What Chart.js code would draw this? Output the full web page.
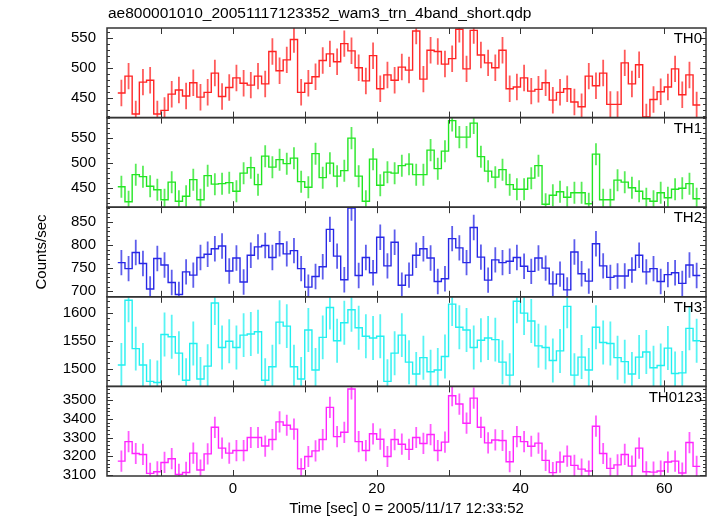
<!DOCTYPE html>
<html>
<head>
<meta charset="utf-8">
<script src="https://cdn.jsdelivr.net/npm/chart.js@4.4.1/dist/chart.umd.min.js"></script>
<style>
  html, body { margin: 0; padding: 0; background: #fff; }
  #wrap { position: relative; width: 717px; height: 516px; }
</style>
</head>
<body>
<div id="wrap"><canvas id="chart" width="717" height="516"></canvas></div>
<script>
// time bins (sec), 1 s wide
var binCenters = [
  -15.5, -14.5, -13.5, -12.5, -11.5, -10.5, -9.5, -8.5, -7.5, -6.5,
  -5.5, -4.5, -3.5, -2.5, -1.5, -0.5, 0.5, 1.5, 2.5, 3.5,
  4.5, 5.5, 6.5, 7.5, 8.5, 9.5, 10.5, 11.5, 12.5, 13.5,
  14.5, 15.5, 16.5, 17.5, 18.5, 19.5, 20.5, 21.5, 22.5, 23.5,
  24.5, 25.5, 26.5, 27.5, 28.5, 29.5, 30.5, 31.5, 32.5, 33.5,
  34.5, 35.5, 36.5, 37.5, 38.5, 39.5, 40.5, 41.5, 42.5, 43.5,
  44.5, 45.5, 46.5, 47.5, 48.5, 49.5, 50.5, 51.5, 52.5, 53.5,
  54.5, 55.5, 56.5, 57.5, 58.5, 59.5, 60.5, 61.5, 62.5, 63.5,
  64.5
];
var binHalfWidth = 0.5;

var th0 = [
  459, 487, 424, 477, 480, 424, 430, 457, 464, 454,
  476, 452, 460, 492, 453, 468, 484, 475, 472, 487,
  474, 528, 496, 514, 548, 460, 475, 486, 513, 524,
  511, 541, 529, 501, 479, 521, 466, 489, 480, 502,
  497, 562, 482, 530, 528, 507, 516, 565, 499, 563,
  522, 509, 501, 530, 466, 469, 484, 462, 465, 476,
  447, 460, 466, 444, 436, 487, 471, 492, 440, 440,
  509, 474, 506, 419, 448, 461, 469, 499, 456, 489,
  439
];
var th1 = [
  452, 422, 476, 472, 453, 446, 426, 461, 423, 433,
  466, 426, 474, 457, 458, 460, 443, 479, 490, 456,
  513, 491, 506, 498, 509, 462, 451, 518, 470, 499,
  473, 484, 549, 473, 423, 507, 455, 481, 479, 494,
  497, 476, 476, 525, 488, 523, 584, 551, 551, 579,
  512, 483, 471, 486, 456, 447, 447, 469, 494, 417,
  435, 442, 431, 440, 440, 418, 517, 426, 426, 465,
  461, 450, 443, 428, 423, 440, 430, 447, 449, 458,
  428
];
var th2 = [
  762, 749, 784, 760, 705, 771, 757, 719, 693, 742,
  735, 773, 780, 792, 798, 744, 772, 720, 778, 796,
  799, 773, 803, 781, 788, 749, 709, 732, 753, 834,
  776, 725, 880, 734, 773, 740, 817, 755, 806, 713,
  735, 778, 792, 772, 721, 727, 814, 794, 762, 838,
  774, 724, 768, 762, 765, 773, 754, 743, 772, 750,
  716, 737, 703, 785, 738, 722, 803, 755, 730, 733,
  733, 746, 778, 742, 749, 721, 736, 740, 717, 757,
  734
];
var th3 = [
  1507, 1622, 1536, 1507, 1478, 1476, 1561, 1557, 1528, 1480,
  1545, 1482, 1505, 1617, 1538, 1549, 1538, 1560, 1562, 1566,
  1480, 1504, 1583, 1576, 1504, 1482, 1569, 1498, 1556, 1609,
  1550, 1582, 1605, 1573, 1558, 1555, 1558, 1478, 1528, 1560,
  1512, 1491, 1520, 1495, 1498, 1522, 1615, 1574, 1569, 1538,
  1551, 1555, 1552, 1512, 1489, 1620, 1599, 1585, 1541, 1538,
  1515, 1532, 1611, 1489, 1521, 1498, 1574, 1547, 1545, 1520,
  1513, 1491, 1521, 1530, 1502, 1506, 1537, 1492, 1493, 1572,
  1550
];
var th0123 = [
  3173, 3278, 3214, 3209, 3107, 3116, 3166, 3186, 3102, 3112,
  3216, 3125, 3212, 3355, 3243, 3216, 3230, 3230, 3300, 3300,
  3254, 3289, 3384, 3366, 3345, 3132, 3198, 3228, 3289, 3462,
  3305, 3328, 3561, 3278, 3230, 3320, 3291, 3198, 3289, 3264,
  3236, 3300, 3268, 3316, 3230, 3275, 3525, 3480, 3377, 3512,
  3355, 3271, 3287, 3284, 3170, 3305, 3278, 3253, 3270, 3177,
  3111, 3168, 3200, 3150, 3130, 3120, 3361, 3214, 3134, 3153,
  3209, 3146, 3243, 3116, 3114, 3120, 3168, 3173, 3109, 3273,
  3145
];

// typical 1-sigma error per panel (counts/sec)
var panelErrors = [22, 22, 27.5, 39, 57];

var panelNames = ['TH0', 'TH1', 'TH2', 'TH3', 'TH0123'];
var panelSeries = [th0, th1, th2, th3, th0123];
var panelMin = [418, 411, 688, 1469, 3093];
var panelMax = [567, 590, 882, 1628, 3575];
var panelMinorStep = [10, 10, 10, 10, 20];
var yTickLabels = [
  [450, 500, 550],
  [450, 500, 550],
  [700, 750, 800, 850],
  [1500, 1550, 1600],
  [3100, 3200, 3300, 3400, 3500]
];
var xTickLabels = [0, 20, 40, 60];
var panelColors = ['#ff2424', '#22e622', '#2828e6', '#22f0f0', '#ff24ff'];

var titleText = 'ae800001010_20051117123352_wam3_trn_4band_short.qdp';
var xTitle = 'Time [sec] 0 = 2005/11/17 12:33:52';
var yTitle = 'Counts/sec';
var FONT = '"Liberation Sans", Arial, Helvetica, sans-serif';

// step-histogram points: left edge of every bin plus right edge of the last one
var buildSteps = function(values) {
  var pts = values.map(function(v, k) {
    return {x: binCenters[k] - binHalfWidth, y: v};
  });
  var last = values.length - 1;
  pts.push({x: binCenters[last] + binHalfWidth, y: values[last]});
  return pts;
};

var datasets = panelSeries.map(function(values, i) {
  return {
    label: panelNames[i],
    data: buildSteps(values),
    yAxisID: 'y' + i,
    borderColor: panelColors[i],
    borderWidth: 1.4,
    pointRadius: 0,
    stepped: 'before',
    fill: false,
    tension: 0
  };
});

var scales = {
  x: {
    type: 'linear',
    position: 'bottom',
    min: -17.5,
    max: 65.8,
    grid: {display: false, drawTicks: false},
    border: {display: false},
    ticks: {
      stepSize: 10,
      includeBounds: false,
      autoSkip: false,
      maxRotation: 0,
      padding: 4,
      color: '#000',
      font: {family: FONT, size: 15},
      callback: function(v) { return xTickLabels.indexOf(v) >= 0 ? String(v) : ''; }
    },
    title: {
      display: true,
      text: xTitle,
      color: '#000',
      font: {family: FONT, size: 15},
      padding: {top: 0, bottom: -1.5}
    },
    afterFit: function(s) { s.height = 40; }
  }
};

panelNames.forEach(function(name, i) {
  scales['y' + i] = {
    type: 'linear',
    position: 'left',
    stack: 'panels',
    stackWeight: 1,
    weight: panelNames.length - i,
    min: panelMin[i],
    max: panelMax[i],
    grid: {display: false, drawTicks: false},
    border: {display: false},
    ticks: {
      stepSize: panelMinorStep[i],
      maxTicksLimit: 200,
      includeBounds: false,
      autoSkip: false,
      padding: 11,
      color: '#000',
      font: {family: FONT, size: 15},
      callback: function(v) { return yTickLabels[i].indexOf(v) >= 0 ? String(v) : ''; }
    },
    afterFit: function(s) { s.width = 107; }
  };
});

var errorBars = {
  id: 'errorBars',
  beforeDatasetsDraw: function(chart) {
    var ctx = chart.ctx, xs = chart.scales.x;
    panelSeries.forEach(function(values, i) {
      var ys = chart.scales['y' + i];
      ctx.save();
      ctx.beginPath();
      ctx.rect(xs.left, ys.top, xs.right - xs.left, ys.bottom - ys.top);
      ctx.clip();
      ctx.strokeStyle = panelColors[i];
      ctx.globalAlpha = 0.75;
      ctx.lineWidth = 1.8;
      ctx.beginPath();
      values.forEach(function(v, k) {
        var px = xs.getPixelForValue(binCenters[k]);
        ctx.moveTo(px, ys.getPixelForValue(v - panelErrors[i]));
        ctx.lineTo(px, ys.getPixelForValue(v + panelErrors[i]));
      });
      ctx.stroke();
      ctx.restore();
    });
  }
};

var qdpFrame = {
  id: 'qdpFrame',
  afterDraw: function(chart) {
    var ctx = chart.ctx, xs = chart.scales.x, area = chart.chartArea;
    ctx.save();
    panelNames.forEach(function(name, i) {
      var ys = chart.scales['y' + i];
      var labelStep = yTickLabels[i][1] - yTickLabels[i][0];

      // ticks pointing into the panel
      ctx.strokeStyle = '#333';
      ctx.lineWidth = 1;
      ctx.beginPath();
      ys.ticks.forEach(function(t) {
        var py = Math.round(ys.getPixelForValue(t.value)) + 0.5;
        var len = (t.value % labelStep === 0) ? 6 : 3;
        ctx.moveTo(xs.left, py); ctx.lineTo(xs.left + len, py);
        ctx.moveTo(xs.right, py); ctx.lineTo(xs.right - len, py);
      });
      xs.ticks.forEach(function(t) {
        if (t.value % 10 !== 0) return;
        var px = Math.round(xs.getPixelForValue(t.value)) + 0.5;
        ctx.moveTo(px, ys.top); ctx.lineTo(px, ys.top + 6);
        ctx.moveTo(px, ys.bottom); ctx.lineTo(px, ys.bottom - 6);
      });
      ctx.stroke();

      // panel frame
      ctx.lineWidth = 1.5;
      ctx.strokeRect(xs.left, ys.top, xs.right - xs.left, ys.bottom - ys.top);

      // panel name
      ctx.fillStyle = '#000';
      ctx.font = '15px ' + FONT;
      ctx.textAlign = 'right';
      ctx.textBaseline = 'middle';
      ctx.fillText(name, xs.right - 4, ys.top + 11);
    });

    ctx.fillStyle = '#000';
    ctx.font = '15.5px ' + FONT;
    ctx.textAlign = 'left';
    ctx.textBaseline = 'alphabetic';
    ctx.fillText(titleText, 108, 17.5);

    ctx.font = '15px ' + FONT;
    ctx.translate(42, (area.top + area.bottom) / 2);
    ctx.rotate(-Math.PI / 2);
    ctx.textAlign = 'center';
    ctx.textBaseline = 'middle';
    ctx.fillText(yTitle, 0, 0);
    ctx.restore();
  }
};

new Chart(document.getElementById('chart').getContext('2d'), {
  type: 'line',
  data: {datasets: datasets},
  options: {
    responsive: false,
    animation: false,
    devicePixelRatio: 1,
    layout: {padding: {top: 28, right: 11, bottom: 0, left: 0}},
    plugins: {legend: {display: false}, tooltip: {enabled: false}, title: {display: false}},
    scales: scales
  },
  plugins: [errorBars, qdpFrame]
});
</script>
</body>
</html>
